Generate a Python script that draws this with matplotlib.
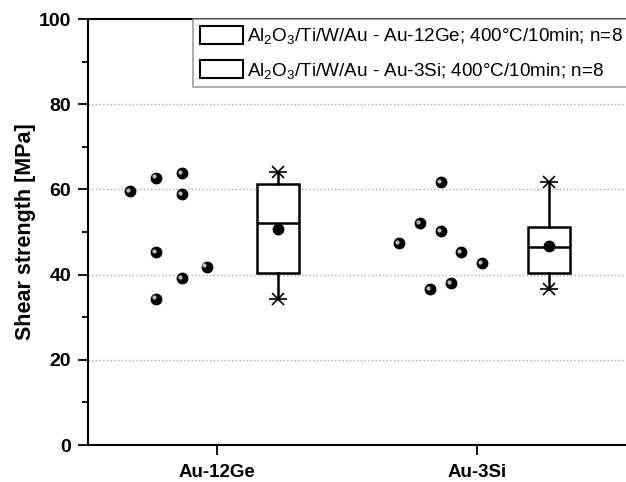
import matplotlib
matplotlib.use('Agg')
import matplotlib.pyplot as plt
from matplotlib.patches import Rectangle

plt.rcParams['font.family'] = ['Liberation Sans', 'DejaVu Sans']
plt.rcParams['mathtext.fontset'] = 'custom'
plt.rcParams['mathtext.rm'] = 'Liberation Sans'
plt.rcParams['mathtext.it'] = 'Liberation Sans:italic'
plt.rcParams['mathtext.bf'] = 'Liberation Sans:bold'

# Kategoriler
kategoriler = ['Au-12Ge', 'Au-3Si']
etiketler = [r'Al$_2$O$_3$/Ti/W/Au - Au-12Ge; 400°C/10min; n=8',
             r'Al$_2$O$_3$/Ti/W/Au - Au-3Si; 400°C/10min; n=8']

# Tekil ölçümler (MPa) ve yatay kaydırma
ge_degerler = [59.6, 62.7, 63.8, 58.9, 45.3, 41.8, 39.2, 34.3]
ge_kayma = [-0.335, -0.235, -0.135, -0.135, -0.235, -0.04, -0.135, -0.235]
si_degerler = [47.4, 52.1, 61.7, 50.2, 36.6, 45.3, 38.0, 42.7]
si_kayma = [-0.30, -0.22, -0.14, -0.14, -0.18, -0.06, -0.10, 0.02]

# Kutu istatistikleri
q1 = [40.4, 40.4]
medyan = [52.1, 46.5]
q3 = [61.3, 51.2]
alt_bigyak = [34.3, 36.6]
ust_bigyak = [64.1, 61.7]
ortalama = [50.7, 46.7]
kutu_kayma = [0.235, 0.277]

fig = plt.figure(figsize=(6.26, 4.82), dpi=100)
ax = fig.add_axes([88/626, 37/482, 1 - 88/626 + 0.05, 426/482])

for i, (vals, off) in enumerate([(ge_degerler, ge_kayma), (si_degerler, si_kayma)]):
    xs = [i + 1 + o for o in off]
    ax.plot(xs, vals, 'o', color='black', ms=7.5, zorder=4)
    ax.plot([x - 0.008 for x in xs], [v + 0.35 for v in vals], 'o', color='#bbbbbb', ms=2, zorder=5)

stats = []
for i in range(2):
    stats.append(dict(med=medyan[i], q1=q1[i], q3=q3[i], whislo=alt_bigyak[i],
                      whishi=ust_bigyak[i], mean=ortalama[i], fliers=[]))
pos = [i + 1 + kutu_kayma[i] for i in range(2)]
ax.bxp(stats, positions=pos, widths=0.16, showmeans=True, patch_artist=True,
       boxprops=dict(facecolor='white', edgecolor='black', linewidth=1.8),
       medianprops=dict(color='black', linewidth=1.8),
       whiskerprops=dict(color='black', linewidth=1.8),
       capprops=dict(linewidth=0),
       meanprops=dict(marker='o', markerfacecolor='black', markeredgecolor='black', markersize=7.5),
       zorder=3)
for i in range(2):
    for v in (alt_bigyak[i], ust_bigyak[i]):
        ax.plot(pos[i], v, marker='x', color='black', ms=9, mew=1.2, zorder=4)
        ax.plot(pos[i], v, marker='_', color='black', ms=13, mew=1.2, zorder=4)

ax.set_xlim(0.504, 2.573 + 0.05 * 626 / 260)
ax.set_ylim(0, 100)
ax.set_xticks([1, 2])
ax.set_xticklabels(kategoriler, fontsize=13.5, fontweight='bold')
ax.set_yticks([0, 20, 40, 60, 80, 100])
ax.set_yticks([10, 30, 50, 70, 90], minor=True)
ax.tick_params(axis='y', labelsize=14, width=1.3, length=7, pad=5)
ax.tick_params(axis='y', which='minor', width=1.3, length=4)
ax.tick_params(axis='x', width=1.3, length=7, pad=7)
for t in ax.get_yticklabels():
    t.set_fontweight('bold')
ax.set_ylabel('Shear strength [MPa]', fontsize=15.5, fontweight='bold', labelpad=2)
ax.yaxis.grid(True, linestyle=':', color='#aaaaaa', linewidth=1)
ax.set_axisbelow(True)
for s in ['left', 'bottom', 'top']:
    ax.spines[s].set_linewidth(1.5)
ax.spines['right'].set_visible(False)

handles = [Rectangle((0, 0), 1, 1, facecolor='white', edgecolor='black', linewidth=1.5) for _ in etiketler]
leg = fig.legend(handles, etiketler, loc='upper left', bbox_to_anchor=(193/626, 1 - 19/482),
                 fontsize=13.6, frameon=True, fancybox=False, edgecolor='#888888',
                 handlelength=2.3, handleheight=1.1, labelspacing=0.75, handletextpad=0.2,
                 borderaxespad=0, borderpad=0.35)
leg.get_frame().set_linewidth(1.2)

fig.savefig('out.png', dpi=100)
